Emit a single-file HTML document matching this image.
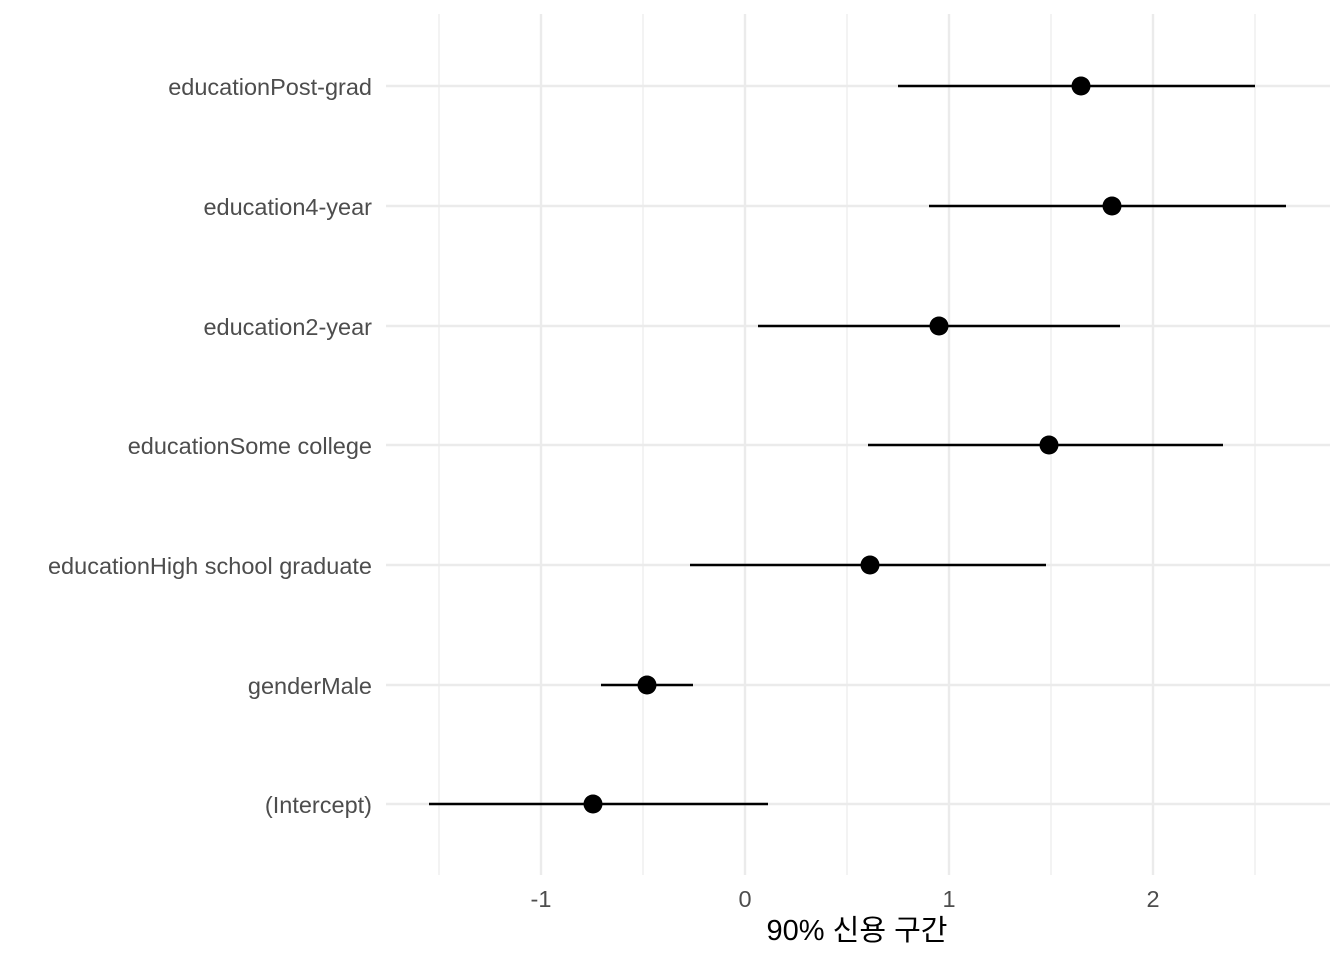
<!DOCTYPE html>
<html><head><meta charset="utf-8"><style>
html,body{margin:0;padding:0;background:#fff}
svg{display:block}
</style></head><body>
<svg width="1344" height="960" xmlns="http://www.w3.org/2000/svg">
<g stroke="#ebebeb" stroke-width="1.2">
<line x1="439" y1="14" x2="439" y2="875"/><line x1="643" y1="14" x2="643" y2="875"/><line x1="847" y1="14" x2="847" y2="875"/><line x1="1051" y1="14" x2="1051" y2="875"/><line x1="1255" y1="14" x2="1255" y2="875"/>
</g>
<g stroke="#ebebeb" stroke-width="2.4">
<line x1="541" y1="14" x2="541" y2="875"/><line x1="745" y1="14" x2="745" y2="875"/><line x1="949" y1="14" x2="949" y2="875"/><line x1="1153" y1="14" x2="1153" y2="875"/>
<line x1="386" y1="86" x2="1330" y2="86"/><line x1="386" y1="206" x2="1330" y2="206"/><line x1="386" y1="326" x2="1330" y2="326"/><line x1="386" y1="445" x2="1330" y2="445"/><line x1="386" y1="565" x2="1330" y2="565"/><line x1="386" y1="685" x2="1330" y2="685"/><line x1="386" y1="804" x2="1330" y2="804"/>
</g>
<g stroke="#000" stroke-width="2.6">
<line x1="898" y1="86" x2="1255" y2="86"/><line x1="929" y1="206" x2="1286" y2="206"/><line x1="758" y1="326" x2="1120" y2="326"/><line x1="868" y1="445" x2="1223" y2="445"/><line x1="690" y1="565" x2="1046" y2="565"/><line x1="601" y1="685" x2="693" y2="685"/><line x1="429" y1="804" x2="768" y2="804"/>
</g>
<g fill="#000">
<circle cx="1081" cy="86" r="9.5"/><circle cx="1112" cy="206" r="9.5"/><circle cx="939" cy="326" r="9.5"/><circle cx="1049" cy="445" r="9.5"/><circle cx="870" cy="565" r="9.5"/><circle cx="647" cy="685" r="9.5"/><circle cx="593" cy="804" r="9.5"/>
</g>
<g font-family="Liberation Sans, sans-serif" font-size="23.5" fill="#4d4d4d" text-anchor="end">
<text x="372" y="95">educationPost-grad</text><text x="372" y="215">education4-year</text><text x="372" y="335">education2-year</text><text x="372" y="454">educationSome college</text><text x="372" y="574">educationHigh school graduate</text><text x="372" y="694">genderMale</text><text x="372" y="813">(Intercept)</text>
</g>
<g font-family="Liberation Sans, sans-serif" font-size="23.5" fill="#4d4d4d" text-anchor="middle">
<text x="541" y="907">-1</text><text x="745" y="907">0</text><text x="949" y="907">1</text><text x="1153" y="907">2</text>
</g>
<text x="857" y="940" font-family="Liberation Sans, 'Noto Sans CJK KR', sans-serif" font-size="29" fill="#000" text-anchor="middle">90% 신용 구간</text>
</svg>
</body></html>
